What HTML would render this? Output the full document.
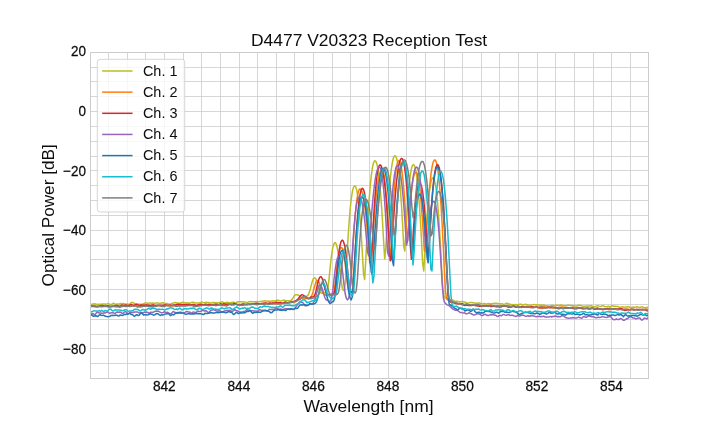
<!DOCTYPE html>
<html lang="en"><head><meta charset="utf-8"><title>D4477 V20323 Reception Test</title>
<style>
html,body{margin:0;padding:0;background:#fff;}
body{width:720px;height:432px;overflow:hidden;position:relative;}
svg text{font-family:"Liberation Sans",Arial,Helvetica,sans-serif;fill:#0d0d0d;}
.tk{font-size:14.2px;stroke:#0d0d0d;stroke-width:0.25px;}
.lg{font-size:14.3px;}
.lb{font-size:16.6px;}
.tt{font-size:16.3px;}
</style></head><body>
<svg width="720" height="432" viewBox="0 0 720 432" style="position:absolute;left:0;top:0">
<rect width="720" height="432" fill="#fff"/>
<path d="M90.5 52.50V378.50M108.5 52.50V378.50M127.5 52.50V378.50M145.5 52.50V378.50M164.5 52.50V378.50M183.5 52.50V378.50M201.5 52.50V378.50M220.5 52.50V378.50M239.5 52.50V378.50M257.5 52.50V378.50M276.5 52.50V378.50M294.5 52.50V378.50M313.5 52.50V378.50M332.5 52.50V378.50M350.5 52.50V378.50M369.5 52.50V378.50M388.5 52.50V378.50M406.5 52.50V378.50M425.5 52.50V378.50M444.5 52.50V378.50M462.5 52.50V378.50M481.5 52.50V378.50M499.5 52.50V378.50M518.5 52.50V378.50M537.5 52.50V378.50M555.5 52.50V378.50M574.5 52.50V378.50M593.5 52.50V378.50M611.5 52.50V378.50M630.5 52.50V378.50M648.5 52.50V378.50" stroke="#cccccc" stroke-width="0.8" fill="none"/>
<path d="M90.50 378.5H648.50M90.50 363.5H648.50M90.50 348.5H648.50M90.50 334.5H648.50M90.50 319.5H648.50M90.50 304.5H648.50M90.50 289.5H648.50M90.50 274.5H648.50M90.50 259.5H648.50M90.50 245.5H648.50M90.50 230.5H648.50M90.50 215.5H648.50M90.50 200.5H648.50M90.50 185.5H648.50M90.50 170.5H648.50M90.50 156.5H648.50M90.50 141.5H648.50M90.50 126.5H648.50M90.50 111.5H648.50M90.50 96.5H648.50M90.50 81.5H648.50M90.50 67.5H648.50M90.50 52.5H648.50" stroke="#cccccc" stroke-width="0.8" fill="none"/>
<defs><clipPath id="c"><rect x="90.00" y="51.84" width="558.00" height="326.16"/></clipPath></defs>
<g clip-path="url(#c)" fill="none" stroke-width="1.5" stroke-linejoin="round" stroke-linecap="square">
<polyline stroke="#bcbd22" points="90.00,304.58 90.09,304.49 91.20,304.26 92.32,304.28 93.43,303.92 94.55,303.85 95.67,304.00 96.78,304.21 97.90,304.37 99.01,304.28 100.13,304.21 101.25,304.35 102.36,303.98 103.48,303.91 104.59,304.06 105.71,304.32 106.83,303.90 107.94,303.43 109.06,303.91 110.17,304.17 111.29,304.40 112.41,303.96 113.52,303.18 114.64,303.83 115.75,304.27 116.87,303.92 117.99,303.89 119.10,304.23 120.22,303.51 121.33,303.66 122.45,303.58 123.57,303.41 124.68,304.06 125.80,304.11 126.91,304.03 128.03,304.13 129.15,304.14 130.26,303.74 131.38,302.46 132.49,302.49 133.61,303.02 134.73,303.56 135.84,303.64 136.96,303.80 138.07,304.26 139.19,304.30 140.31,304.27 141.42,304.20 142.54,304.15 143.65,303.63 144.77,303.22 145.89,303.12 147.00,303.07 148.12,303.40 149.23,303.11 150.35,303.00 151.47,303.19 152.58,302.99 153.70,303.14 154.81,303.38 155.93,303.00 157.05,302.97 158.16,303.08 159.28,303.40 160.39,303.35 161.51,302.98 162.63,302.85 163.74,303.06 164.86,303.62 165.97,303.59 167.09,303.40 168.21,303.88 169.32,304.37 170.44,304.00 171.55,303.54 172.67,303.25 173.79,302.83 174.90,302.58 176.02,302.80 177.13,303.04 178.25,302.91 179.37,303.27 180.48,303.37 181.60,302.66 182.71,302.16 183.83,302.40 184.95,302.82 186.06,302.88 187.18,302.78 188.29,302.88 189.41,303.31 190.53,302.83 191.64,302.57 192.76,302.16 193.87,302.49 194.99,302.89 196.11,302.99 197.22,303.00 198.34,302.98 199.45,302.77 200.57,302.43 201.69,301.90 202.80,302.49 203.92,302.63 205.03,302.71 206.15,302.28 207.27,302.40 208.38,302.76 209.50,302.59 210.61,303.00 211.73,303.03 212.85,302.54 213.96,302.51 215.08,302.65 216.19,302.71 217.31,302.89 218.43,302.82 219.54,302.47 220.66,302.25 221.77,302.08 222.89,302.08 224.01,302.63 225.12,302.74 226.24,302.50 227.35,302.28 228.47,302.73 229.59,302.64 230.70,302.54 231.82,302.40 232.93,302.21 234.05,302.34 235.17,302.92 236.28,302.71 237.40,301.84 238.51,301.65 239.63,301.86 240.75,301.68 241.86,301.72 242.98,301.95 244.09,301.88 245.21,301.98 246.33,302.84 247.44,302.35 248.56,301.84 249.67,301.85 250.79,301.53 251.91,301.65 253.02,301.72 254.14,301.82 255.25,301.66 256.37,301.39 257.49,301.63 258.60,301.72 259.72,301.58 260.83,301.52 261.95,301.46 263.07,301.05 264.18,300.90 265.30,300.71 266.41,301.06 267.53,301.20 268.65,300.99 269.76,301.23 270.88,301.24 271.99,300.85 273.11,300.93 274.23,300.97 275.34,300.82 276.46,300.47 277.57,300.12 278.69,300.32 279.81,300.91 280.92,301.07 282.04,300.65 283.15,300.13 284.27,300.21 285.39,300.66 286.50,300.63 287.62,300.71 288.73,300.82 289.85,300.71 290.97,300.55 292.08,299.34 293.20,297.57 294.31,295.87 295.43,294.81 296.55,294.75 297.66,294.95 298.78,295.24 299.89,296.07 301.01,297.22 302.13,297.94 303.24,297.79 304.36,297.00 305.47,296.68 306.59,296.29 307.71,295.57 308.82,293.59 309.94,290.60 311.05,286.17 312.17,281.93 313.29,278.82 314.40,277.73 315.52,278.42 316.63,281.01 317.75,285.25 318.87,289.54 319.98,292.04 321.10,293.10 322.21,293.29 323.33,293.15 324.45,292.58 325.56,292.43 326.68,292.20 327.79,288.56 328.91,280.11 330.03,268.81 331.14,258.39 332.26,250.38 333.37,245.15 334.49,242.73 335.61,242.82 336.72,245.48 337.84,250.96 338.95,259.20 340.07,269.66 341.19,280.60 342.30,288.21 343.42,290.56 344.53,289.16 345.65,279.23 346.77,260.30 347.88,240.62 349.00,223.59 350.11,209.76 351.23,199.18 352.35,191.76 353.46,187.39 354.58,185.87 355.69,186.79 356.81,190.39 357.93,196.92 359.04,206.49 360.16,219.19 361.27,235.04 362.39,253.74 363.51,273.10 364.62,279.52 365.74,260.87 366.85,237.89 367.97,217.44 369.09,200.17 370.20,186.13 371.32,175.27 372.43,167.51 373.55,162.72 374.67,160.75 375.78,161.18 376.90,164.04 378.01,169.60 379.13,177.98 380.25,189.29 381.36,203.59 382.48,220.91 383.59,241.08 384.71,258.85 385.83,247.52 386.94,226.11 388.06,207.20 389.17,191.33 390.29,178.47 391.41,168.57 392.52,161.55 393.64,157.31 394.75,155.66 395.87,156.34 396.99,159.73 398.10,166.12 399.22,175.64 400.33,188.40 401.45,204.47 402.57,223.87 403.68,245.66 404.80,251.04 405.91,231.23 407.03,212.12 408.15,196.29 409.26,183.76 410.38,174.46 411.49,168.29 412.61,165.11 413.73,164.60 414.84,166.54 415.96,171.26 417.07,178.94 418.19,189.70 419.31,203.62 420.42,220.74 421.54,241.03 422.65,263.44 423.77,270.95 424.89,251.78 426.00,232.01 427.12,215.27 428.23,201.71 429.35,191.29 430.47,183.94 431.58,179.54 432.70,177.89 433.81,178.66 434.93,182.17 436.05,188.68 437.16,198.34 438.28,211.24 439.39,227.42 440.51,246.79 441.63,268.50 442.74,287.55 443.86,295.53 444.97,297.44 446.09,298.17 447.21,298.48 448.32,298.94 449.44,299.40 450.55,299.71 451.67,299.69 452.79,300.05 453.90,301.07 455.02,301.12 456.13,301.36 457.25,301.32 458.37,301.39 459.48,301.84 460.60,301.88 461.71,301.52 462.83,301.64 463.95,301.86 465.06,302.23 466.18,302.71 467.29,303.34 468.41,303.21 469.53,302.62 470.64,302.48 471.76,302.47 472.87,302.80 473.99,302.83 475.11,303.40 476.22,303.17 477.34,303.08 478.45,303.26 479.57,302.87 480.69,303.50 481.80,303.69 482.92,303.91 484.03,303.40 485.15,303.80 486.27,304.21 487.38,303.69 488.50,303.45 489.61,303.87 490.73,303.84 491.85,303.64 492.96,303.42 494.08,303.46 495.19,303.31 496.31,303.22 497.43,303.59 498.54,303.62 499.66,303.87 500.77,303.65 501.89,303.73 503.01,304.16 504.12,304.13 505.24,303.88 506.35,303.23 507.47,303.49 508.59,303.82 509.70,304.08 510.82,304.63 511.93,304.53 513.05,304.78 514.17,304.74 515.28,304.50 516.40,304.65 517.51,304.80 518.63,304.78 519.75,304.22 520.86,304.30 521.98,304.57 523.09,304.97 524.21,304.75 525.33,304.24 526.44,304.52 527.56,304.77 528.67,305.03 529.79,305.14 530.91,305.18 532.02,304.85 533.14,304.68 534.25,304.42 535.37,304.90 536.49,304.78 537.60,304.90 538.72,304.97 539.83,305.07 540.95,305.43 542.07,305.05 543.18,304.91 544.30,305.15 545.41,305.66 546.53,305.75 547.65,305.94 548.76,306.06 549.88,306.25 550.99,305.79 552.11,305.25 553.23,305.60 554.34,305.82 555.46,305.43 556.57,305.26 557.69,305.12 558.81,305.45 559.92,305.26 561.04,305.03 562.15,305.21 563.27,305.63 564.39,305.81 565.50,305.76 566.62,305.75 567.73,305.28 568.85,305.17 569.97,305.38 571.08,305.56 572.20,305.75 573.31,305.85 574.43,305.72 575.55,305.94 576.66,305.97 577.78,305.54 578.89,305.15 580.01,305.56 581.13,305.61 582.24,306.03 583.36,306.36 584.47,306.27 585.59,306.16 586.71,306.05 587.82,306.00 588.94,306.07 590.05,305.89 591.17,305.79 592.29,306.18 593.40,306.49 594.52,306.68 595.63,306.38 596.75,306.07 597.87,305.65 598.98,306.14 600.10,306.51 601.21,306.38 602.33,305.67 603.45,305.70 604.56,306.58 605.68,306.79 606.79,306.82 607.91,306.21 609.03,306.36 610.14,306.96 611.26,306.15 612.37,305.74 613.49,306.28 614.61,306.12 615.72,306.29 616.84,306.48 617.95,306.44 619.07,307.17 620.19,307.46 621.30,306.91 622.42,306.74 623.53,307.16 624.65,307.12 625.77,307.00 626.88,307.05 628.00,306.73 629.11,306.86 630.23,307.73 631.35,307.43 632.46,307.24 633.58,307.07 634.69,307.31 635.81,307.05 636.93,306.74 638.04,307.17 639.16,307.59 640.27,307.28 641.39,307.06 642.51,306.92 643.62,307.50 644.74,307.78 645.85,307.75 646.97,307.31 648.00,307.61"/>
<polyline stroke="#ff7f0e" points="90.00,306.05 90.67,305.84 91.79,306.23 92.90,306.47 94.02,306.67 95.13,306.72 96.25,306.87 97.37,307.17 98.48,306.90 99.60,306.45 100.71,306.75 101.83,306.77 102.95,306.40 104.06,306.21 105.18,306.04 106.29,306.34 107.41,306.54 108.53,305.96 109.64,306.03 110.76,306.25 111.87,305.98 112.99,306.35 114.11,306.26 115.22,306.68 116.34,306.95 117.45,306.57 118.57,306.53 119.69,306.22 120.80,306.58 121.92,306.50 123.03,306.58 124.15,306.14 125.27,306.03 126.38,305.96 127.50,305.57 128.61,305.65 129.73,305.93 130.85,306.23 131.96,306.07 133.08,305.91 134.19,305.91 135.31,306.20 136.43,306.66 137.54,307.29 138.66,306.64 139.77,306.20 140.89,305.96 142.01,305.21 143.12,305.06 144.24,305.16 145.35,305.30 146.47,305.30 147.59,305.37 148.70,305.30 149.82,306.13 150.93,305.96 152.05,305.48 153.17,304.96 154.28,305.05 155.40,305.31 156.51,305.99 157.63,305.86 158.75,305.58 159.86,305.52 160.98,306.39 162.09,306.42 163.21,306.46 164.33,305.69 165.44,304.75 166.56,305.13 167.67,305.83 168.79,305.68 169.91,305.28 171.02,305.56 172.14,305.62 173.25,305.88 174.37,305.86 175.49,305.20 176.60,305.07 177.72,305.08 178.83,305.53 179.95,305.28 181.07,305.29 182.18,305.29 183.30,304.93 184.41,305.19 185.53,305.11 186.65,305.04 187.76,304.83 188.88,304.91 189.99,304.79 191.11,304.87 192.23,305.00 193.34,304.59 194.46,304.84 195.57,305.37 196.69,305.67 197.81,306.00 198.92,305.71 200.04,305.25 201.15,304.70 202.27,304.78 203.39,304.71 204.50,304.50 205.62,304.70 206.73,305.00 207.85,305.18 208.97,305.23 210.08,305.05 211.20,304.75 212.31,305.18 213.43,305.03 214.55,305.14 215.66,305.60 216.78,305.12 217.89,304.87 219.01,304.83 220.13,305.02 221.24,305.45 222.36,305.12 223.47,304.37 224.59,304.42 225.71,304.60 226.82,305.06 227.94,304.70 229.05,304.15 230.17,304.32 231.29,304.46 232.40,304.79 233.52,304.80 234.63,304.37 235.75,303.77 236.87,304.55 237.98,304.96 239.10,304.51 240.21,304.36 241.33,304.81 242.45,305.02 243.56,304.14 244.68,304.14 245.79,304.40 246.91,304.24 248.03,304.71 249.14,304.61 250.26,304.19 251.37,304.26 252.49,304.05 253.61,303.92 254.72,304.10 255.84,304.28 256.95,304.71 258.07,304.31 259.19,304.05 260.30,303.69 261.42,303.69 262.53,303.62 263.65,304.27 264.77,304.62 265.88,304.17 267.00,303.85 268.11,303.84 269.23,303.60 270.35,303.10 271.46,303.31 272.58,303.01 273.69,303.44 274.81,303.95 275.93,303.92 277.04,303.59 278.16,303.48 279.27,303.68 280.39,303.87 281.51,303.69 282.62,303.31 283.74,303.15 284.85,302.86 285.97,302.19 287.09,302.60 288.20,303.10 289.32,302.57 290.43,302.03 291.55,301.94 292.67,302.14 293.78,302.65 294.90,302.28 296.01,301.34 297.13,300.44 298.25,299.45 299.36,298.22 300.48,297.26 301.59,297.59 302.71,298.05 303.83,298.09 304.94,298.32 306.06,298.51 307.17,298.44 308.29,298.00 309.41,298.10 310.52,297.51 311.64,295.83 312.75,293.02 313.87,289.03 314.99,284.96 316.10,281.76 317.22,280.37 318.33,280.78 319.45,283.14 320.57,286.50 321.68,290.33 322.80,293.14 323.91,294.33 325.03,294.79 326.15,295.27 327.26,295.14 328.38,295.03 329.49,294.75 330.61,294.48 331.73,294.05 332.84,293.95 333.96,291.64 335.07,284.28 336.19,273.87 337.31,263.69 338.42,255.57 339.54,250.15 340.65,247.56 341.77,247.49 342.89,249.89 344.00,255.09 345.12,263.04 346.23,273.13 347.35,283.28 348.47,289.99 349.58,291.50 350.70,284.83 351.81,267.58 352.93,247.77 354.05,230.10 355.16,215.55 356.28,204.24 357.39,196.12 358.51,191.08 359.63,188.95 360.74,189.17 361.86,191.20 362.97,195.21 364.09,201.28 365.21,209.49 366.32,219.87 367.44,232.46 368.55,247.13 369.67,262.55 370.79,267.08 371.90,251.99 373.02,234.40 374.13,218.68 375.25,205.19 376.37,193.94 377.48,184.89 378.60,178.01 379.71,173.22 380.83,170.45 381.95,169.56 383.06,170.92 384.18,175.71 385.29,184.23 386.41,196.64 387.53,213.04 388.64,233.46 389.76,255.82 390.87,251.02 391.99,227.00 393.11,206.11 394.22,189.27 395.34,176.45 396.45,167.53 397.57,162.36 398.69,160.66 399.80,161.70 400.92,165.40 402.03,171.99 403.15,181.60 404.27,194.31 405.38,210.19 406.50,228.80 407.61,240.32 408.73,226.91 409.85,210.32 410.96,196.66 412.08,186.13 413.19,178.64 414.31,174.08 415.43,172.28 416.54,172.83 417.66,175.78 418.77,181.39 419.89,189.78 421.01,201.05 422.12,215.25 423.24,232.39 424.35,250.96 425.47,251.64 426.59,231.80 427.70,212.85 428.82,196.83 429.93,183.79 431.05,173.67 432.17,166.39 433.28,161.85 434.40,159.90 435.51,160.25 436.63,163.24 437.75,169.21 438.86,178.31 439.98,190.63 441.09,206.26 442.21,225.23 443.33,247.46 444.44,271.90 445.56,292.09 446.67,299.04 447.79,300.04 448.91,300.47 450.02,300.72 451.14,301.10 452.25,301.80 453.37,302.52 454.49,302.78 455.60,302.88 456.72,302.95 457.83,303.42 458.95,303.81 460.07,303.54 461.18,303.90 462.30,304.47 463.41,304.95 464.53,304.63 465.65,304.06 466.76,303.96 467.88,304.45 468.99,304.73 470.11,304.85 471.23,305.25 472.34,305.25 473.46,304.98 474.57,305.25 475.69,305.41 476.81,305.47 477.92,305.24 479.04,305.12 480.15,305.49 481.27,305.64 482.39,305.76 483.50,306.17 484.62,306.26 485.73,306.01 486.85,306.17 487.97,305.76 489.08,305.44 490.20,304.85 491.31,305.44 492.43,305.78 493.55,305.66 494.66,305.71 495.78,306.14 496.89,306.30 498.01,306.30 499.13,305.78 500.24,305.56 501.36,305.86 502.47,305.98 503.59,306.03 504.71,306.19 505.82,305.88 506.94,305.57 508.05,305.58 509.17,305.58 510.29,306.08 511.40,306.47 512.52,306.69 513.63,306.46 514.75,306.80 515.87,307.19 516.98,307.06 518.10,307.00 519.21,307.56 520.33,307.36 521.45,306.85 522.56,306.73 523.68,306.93 524.79,307.22 525.91,306.61 527.03,306.12 528.14,306.76 529.26,307.25 530.37,306.78 531.49,306.77 532.61,307.11 533.72,307.19 534.84,307.32 535.95,307.26 537.07,307.21 538.19,307.52 539.30,308.15 540.42,307.92 541.53,306.93 542.65,306.56 543.77,306.55 544.88,306.86 546.00,307.40 547.11,307.47 548.23,307.34 549.35,307.19 550.46,307.43 551.58,307.95 552.69,307.93 553.81,307.79 554.93,307.84 556.04,307.73 557.16,308.10 558.27,307.59 559.39,307.19 560.51,307.24 561.62,306.94 562.74,306.89 563.85,307.22 564.97,307.42 566.09,307.49 567.20,307.63 568.32,307.98 569.43,307.92 570.55,307.70 571.67,307.52 572.78,307.28 573.90,307.45 575.01,307.87 576.13,307.67 577.25,307.83 578.36,307.58 579.48,307.72 580.59,307.82 581.71,308.02 582.83,308.55 583.94,308.30 585.06,308.47 586.17,308.26 587.29,307.41 588.41,307.59 589.52,308.31 590.64,308.46 591.75,308.47 592.87,308.40 593.99,308.65 595.10,308.52 596.22,308.22 597.33,308.19 598.45,308.97 599.57,309.22 600.68,309.06 601.80,308.88 602.91,309.27 604.03,309.03 605.15,309.08 606.26,309.14 607.38,309.10 608.49,309.63 609.61,309.83 610.73,309.33 611.84,308.97 612.96,309.03 614.07,309.22 615.19,309.07 616.31,309.20 617.42,309.51 618.54,309.16 619.65,308.78 620.77,308.57 621.89,309.17 623.00,309.49 624.12,309.22 625.23,309.23 626.35,308.99 627.47,308.99 628.58,309.23 629.70,309.67 630.81,309.72 631.93,309.49 633.05,309.54 634.16,309.61 635.28,309.69 636.39,309.82 637.51,309.71 638.63,309.64 639.74,309.48 640.86,309.54 641.97,309.79 643.09,309.52 644.21,309.56 645.32,309.23 646.44,309.30 647.55,309.40 648.00,309.16"/>
<polyline stroke="#d62728" points="90.00,306.32 91.10,306.06 92.21,305.87 93.33,305.94 94.45,305.93 95.56,306.49 96.68,306.44 97.79,306.13 98.91,306.24 100.03,305.83 101.14,305.77 102.26,305.53 103.37,305.72 104.49,306.06 105.61,306.28 106.72,305.90 107.84,305.72 108.95,306.21 110.07,306.57 111.19,306.57 112.30,306.26 113.42,306.34 114.53,306.06 115.65,305.48 116.77,305.40 117.88,305.62 119.00,306.29 120.11,306.22 121.23,305.32 122.35,304.90 123.46,305.47 124.58,305.30 125.69,304.85 126.81,305.39 127.93,305.58 129.04,305.56 130.16,304.74 131.27,304.56 132.39,304.91 133.51,305.14 134.62,305.02 135.74,304.62 136.85,304.50 137.97,304.89 139.09,305.39 140.20,305.29 141.32,304.87 142.43,305.23 143.55,305.30 144.67,305.28 145.78,304.90 146.90,304.96 148.01,305.21 149.13,305.21 150.25,305.42 151.36,305.22 152.48,304.88 153.59,305.09 154.71,305.81 155.83,305.82 156.94,305.52 158.06,305.39 159.17,305.58 160.29,305.27 161.41,305.34 162.52,305.56 163.64,305.09 164.75,305.03 165.87,305.11 166.99,305.15 168.10,305.42 169.22,305.24 170.33,305.28 171.45,305.54 172.57,305.71 173.68,304.90 174.80,304.90 175.91,304.83 177.03,304.47 178.15,304.32 179.26,304.44 180.38,304.57 181.49,304.43 182.61,304.39 183.73,304.53 184.84,304.44 185.96,304.57 187.07,304.75 188.19,304.43 189.31,304.53 190.42,304.92 191.54,304.70 192.65,304.52 193.77,304.62 194.89,305.02 196.00,305.32 197.12,305.41 198.23,304.76 199.35,304.46 200.47,304.20 201.58,304.14 202.70,304.82 203.81,304.97 204.93,304.42 206.05,304.23 207.16,304.72 208.28,304.53 209.39,304.37 210.51,304.78 211.63,305.17 212.74,304.72 213.86,304.50 214.97,304.28 216.09,304.33 217.21,304.36 218.32,304.80 219.44,304.46 220.55,303.73 221.67,304.04 222.79,304.17 223.90,303.61 225.02,304.09 226.13,304.22 227.25,304.12 228.37,304.16 229.48,304.27 230.60,304.23 231.71,304.29 232.83,304.12 233.95,303.49 235.06,303.56 236.18,304.14 237.29,304.50 238.41,304.50 239.53,304.64 240.64,304.85 241.76,304.20 242.87,304.03 243.99,304.11 245.11,304.55 246.22,304.57 247.34,304.54 248.45,304.03 249.57,304.34 250.69,304.33 251.80,304.05 252.92,304.02 254.03,303.93 255.15,303.37 256.27,303.24 257.38,303.34 258.50,303.73 259.61,303.71 260.73,303.69 261.85,303.52 262.96,303.37 264.08,303.07 265.19,302.98 266.31,303.00 267.43,303.39 268.54,303.21 269.66,302.97 270.77,303.39 271.89,303.32 273.01,302.93 274.12,302.91 275.24,302.52 276.35,302.26 277.47,302.46 278.59,302.59 279.70,302.69 280.82,302.73 281.93,303.05 283.05,303.27 284.17,302.41 285.28,302.05 286.40,302.62 287.51,302.89 288.63,302.49 289.75,302.52 290.86,302.17 291.98,301.85 293.09,301.60 294.21,301.25 295.33,300.99 296.44,300.50 297.56,299.38 298.67,298.15 299.79,296.45 300.91,295.30 302.02,294.64 303.14,295.12 304.25,295.82 305.37,296.62 306.49,297.57 307.60,298.54 308.72,298.70 309.83,298.30 310.95,297.03 312.07,296.88 313.18,296.84 314.30,296.02 315.41,293.39 316.53,288.79 317.65,283.75 318.76,279.44 319.88,277.10 320.99,276.63 322.11,278.24 323.23,281.63 324.34,286.16 325.46,290.55 326.57,293.13 327.69,294.24 328.81,294.91 329.92,294.51 331.04,294.69 332.15,295.16 333.27,294.52 334.39,292.63 335.50,286.17 336.62,274.90 337.73,262.89 338.85,252.95 339.97,245.81 341.08,241.58 342.20,240.14 343.31,241.11 344.43,244.81 345.55,251.39 346.66,260.77 347.78,272.12 348.89,283.12 350.01,290.34 351.13,292.50 352.24,291.39 353.36,282.84 354.47,264.36 355.59,244.52 356.71,227.24 357.82,213.15 358.94,202.30 360.05,194.62 361.17,190.01 362.29,188.27 363.40,189.10 364.52,192.93 365.63,200.08 366.75,210.68 367.87,224.83 368.98,242.50 370.10,262.28 371.21,264.60 372.33,242.20 373.45,220.57 374.56,202.51 375.68,188.09 376.79,177.24 377.91,169.87 379.03,165.83 380.14,164.82 381.26,166.03 382.37,169.45 383.49,175.23 384.61,183.46 385.72,194.23 386.84,207.57 387.95,223.53 389.07,242.00 390.19,260.75 391.30,259.24 392.42,239.41 393.53,220.37 394.65,203.90 395.77,190.06 396.88,178.80 398.00,170.08 399.11,163.84 400.23,159.98 401.35,158.37 402.46,158.83 403.58,161.88 404.69,167.86 405.81,176.90 406.93,189.11 408.04,204.57 409.16,223.31 410.27,244.96 411.39,259.35 412.51,244.95 413.62,226.98 414.74,212.03 415.85,200.29 416.97,191.70 418.09,186.16 419.20,183.52 420.32,183.44 421.43,185.92 422.55,191.32 423.67,199.82 424.78,211.51 425.90,226.46 427.01,244.49 428.13,259.30 429.25,245.78 430.36,224.76 431.48,206.69 432.59,191.94 433.71,180.47 434.83,172.18 435.94,166.98 437.06,164.69 438.17,164.94 439.29,167.83 440.41,173.68 441.52,182.66 442.64,194.86 443.75,210.36 444.87,229.20 445.99,251.27 447.10,275.36 448.22,294.37 449.33,300.70 450.45,302.10 451.57,302.40 452.68,302.60 453.80,302.76 454.91,303.09 456.03,303.57 457.15,303.69 458.26,303.70 459.38,303.87 460.49,303.82 461.61,303.75 462.73,303.84 463.84,304.87 464.96,305.50 466.07,305.13 467.19,305.13 468.31,305.49 469.42,305.33 470.54,305.39 471.65,305.50 472.77,305.22 473.89,305.32 475.00,305.48 476.12,305.45 477.23,305.83 478.35,306.10 479.47,306.13 480.58,306.26 481.70,306.37 482.81,306.18 483.93,305.54 485.05,305.72 486.16,306.05 487.28,306.12 488.39,305.76 489.51,305.73 490.63,306.52 491.74,306.57 492.86,306.31 493.97,306.10 495.09,306.59 496.21,306.86 497.32,306.49 498.44,306.71 499.55,307.10 500.67,306.90 501.79,306.69 502.90,306.16 504.02,305.93 505.13,305.88 506.25,306.33 507.37,306.69 508.48,307.25 509.60,307.35 510.71,307.36 511.83,306.52 512.95,306.05 514.06,306.34 515.18,306.87 516.29,307.06 517.41,306.25 518.53,306.53 519.64,307.02 520.76,307.10 521.87,306.48 522.99,306.83 524.11,306.86 525.22,307.12 526.34,306.91 527.45,307.06 528.57,307.14 529.69,307.29 530.80,307.19 531.92,306.79 533.03,306.96 534.15,307.15 535.27,307.29 536.38,307.01 537.50,307.29 538.61,307.44 539.73,307.31 540.85,307.75 541.96,308.12 543.08,308.08 544.19,307.65 545.31,307.69 546.43,307.62 547.54,307.35 548.66,307.45 549.77,307.87 550.89,307.35 552.01,307.30 553.12,307.30 554.24,307.61 555.35,307.59 556.47,307.41 557.59,308.21 558.70,308.69 559.82,308.52 560.93,307.98 562.05,308.37 563.17,308.82 564.28,308.22 565.40,307.74 566.51,307.97 567.63,307.84 568.75,307.82 569.86,308.09 570.98,308.02 572.09,307.93 573.21,308.57 574.33,308.81 575.44,308.70 576.56,308.73 577.67,308.21 578.79,307.98 579.91,307.74 581.02,308.14 582.14,308.66 583.25,308.78 584.37,308.59 585.49,308.43 586.60,308.49 587.72,308.83 588.83,308.78 589.95,309.12 591.07,308.50 592.18,307.93 593.30,308.32 594.41,309.22 595.53,309.15 596.65,308.56 597.76,308.21 598.88,308.45 599.99,308.66 601.11,309.05 602.23,309.64 603.34,309.54 604.46,309.32 605.57,309.06 606.69,308.63 607.81,308.43 608.92,308.50 610.04,308.51 611.15,308.72 612.27,308.65 613.39,308.87 614.50,309.18 615.62,308.92 616.73,309.16 617.85,308.96 618.97,308.96 620.08,308.76 621.20,308.78 622.31,308.93 623.43,309.77 624.55,310.42 625.66,310.27 626.78,310.04 627.89,310.07 629.01,309.83 630.13,309.72 631.24,309.45 632.36,309.22 633.47,309.50 634.59,309.47 635.71,309.67 636.82,309.16 637.94,309.40 639.05,309.73 640.17,309.40 641.29,309.80 642.40,309.49 643.52,309.65 644.63,309.63 645.75,309.83 646.87,310.86 647.98,310.68 648.00,310.75"/>
<polyline stroke="#9467bd" points="90.00,313.95 90.75,314.56 91.86,313.52 92.98,313.72 94.10,314.42 95.21,314.59 96.33,312.80 97.44,312.05 98.56,312.78 99.68,312.90 100.79,313.06 101.91,313.33 103.02,313.15 104.14,312.80 105.26,313.11 106.37,312.24 107.49,312.16 108.60,312.53 109.72,313.52 110.84,312.75 111.95,312.75 113.07,312.52 114.18,313.42 115.30,313.50 116.42,312.23 117.53,311.94 118.65,312.24 119.76,312.09 120.88,312.22 122.00,313.56 123.11,313.35 124.23,312.09 125.34,311.57 126.46,312.16 127.58,313.57 128.69,313.74 129.81,312.61 130.92,312.25 132.04,312.52 133.16,312.54 134.27,312.02 135.39,311.93 136.50,311.91 137.62,312.02 138.74,312.85 139.85,312.98 140.97,312.86 142.08,313.66 143.20,312.67 144.32,312.05 145.43,312.18 146.55,312.03 147.66,312.44 148.78,313.00 149.90,312.67 151.01,312.05 152.13,312.60 153.24,312.32 154.36,311.67 155.48,311.20 156.59,311.03 157.71,311.35 158.82,311.27 159.94,312.29 161.06,312.66 162.17,312.79 163.29,312.33 164.40,311.72 165.52,312.36 166.64,312.42 167.75,312.23 168.87,313.18 169.98,313.76 171.10,313.83 172.22,312.36 173.33,311.50 174.45,312.17 175.56,312.39 176.68,313.37 177.80,313.56 178.91,312.96 180.03,311.97 181.14,312.50 182.26,312.61 183.38,313.10 184.49,313.01 185.61,312.03 186.72,311.43 187.84,311.74 188.96,311.93 190.07,312.18 191.19,312.88 192.30,312.66 193.42,311.91 194.54,312.33 195.65,312.42 196.77,311.94 197.88,311.01 199.00,311.54 200.12,311.62 201.23,310.99 202.35,310.31 203.46,310.57 204.58,310.95 205.70,310.69 206.81,311.22 207.93,312.23 209.04,312.43 210.16,311.00 211.28,310.03 212.39,310.11 213.51,309.62 214.62,310.16 215.74,310.56 216.86,311.09 217.97,311.27 219.09,310.56 220.20,310.87 221.32,312.02 222.44,312.04 223.55,311.42 224.67,311.03 225.78,310.67 226.90,310.28 228.02,310.72 229.13,310.25 230.25,310.39 231.36,311.40 232.48,311.39 233.60,310.45 234.71,309.62 235.83,310.27 236.94,310.81 238.06,311.10 239.18,311.90 240.29,311.98 241.41,311.99 242.52,311.89 243.64,311.55 244.76,311.48 245.87,310.47 246.99,309.62 248.10,310.58 249.22,310.03 250.34,310.58 251.45,310.83 252.57,310.75 253.68,310.89 254.80,311.05 255.92,310.88 257.03,311.45 258.15,310.95 259.26,309.45 260.38,309.95 261.50,310.34 262.61,310.19 263.73,310.25 264.84,310.65 265.96,310.75 267.08,311.25 268.19,310.28 269.31,309.28 270.42,309.59 271.54,309.52 272.66,309.43 273.77,309.54 274.89,308.91 276.00,308.42 277.12,308.47 278.24,308.88 279.35,309.13 280.47,309.05 281.58,309.25 282.70,309.78 283.82,309.19 284.93,308.86 286.05,308.69 287.16,308.83 288.28,309.27 289.40,309.01 290.51,308.77 291.63,309.15 292.74,309.19 293.86,309.04 294.98,308.66 296.09,306.64 297.21,305.17 298.32,303.65 299.44,302.12 300.56,301.46 301.67,302.32 302.79,302.63 303.90,304.04 305.02,305.83 306.14,305.70 307.25,305.46 308.37,304.82 309.48,304.47 310.60,304.02 311.72,303.90 312.83,303.52 313.95,301.68 315.06,299.10 316.18,295.08 317.30,290.49 318.41,286.84 319.53,285.18 320.64,285.42 321.76,287.20 322.88,290.75 323.99,294.90 325.11,298.06 326.22,299.72 327.34,300.25 328.46,300.71 329.57,301.76 330.69,300.96 331.80,296.74 332.92,289.10 334.04,279.42 335.15,270.02 336.27,262.73 337.38,258.24 338.50,256.48 339.62,257.14 340.73,260.40 341.85,266.45 342.96,275.11 344.08,285.29 345.20,293.74 346.31,298.25 347.43,299.85 348.54,298.65 349.66,294.22 350.78,279.66 351.89,259.90 353.01,241.62 354.12,226.39 355.24,214.39 356.36,205.59 357.47,199.91 358.59,197.18 359.70,196.99 360.82,198.64 361.94,202.26 363.05,207.96 364.17,215.82 365.28,225.87 366.40,238.10 367.52,251.47 368.63,255.69 369.75,241.42 370.86,224.59 371.98,209.75 373.10,197.17 374.21,186.86 375.33,178.76 376.44,172.83 377.56,168.98 378.68,167.13 379.79,167.12 380.91,169.65 382.02,175.24 383.14,184.06 384.26,196.23 385.37,211.83 386.49,230.89 387.60,252.39 388.72,256.05 389.84,234.94 390.95,215.04 392.07,198.58 393.18,185.56 394.30,175.92 395.42,169.55 396.53,166.28 397.65,165.78 398.76,167.42 399.88,171.36 401.00,177.73 402.11,186.64 403.23,198.15 404.34,212.31 405.46,229.02 406.58,244.97 407.69,240.28 408.81,223.06 409.92,207.38 411.04,194.34 412.16,183.93 413.27,176.09 414.39,170.75 415.50,167.80 416.62,167.04 417.74,168.29 418.85,171.90 419.97,178.04 421.08,186.81 422.20,198.28 423.32,212.51 424.43,229.42 425.55,246.73 426.66,248.34 427.78,235.58 428.90,223.56 430.01,214.16 431.13,207.40 432.24,203.18 433.36,201.38 434.48,201.77 435.59,204.79 436.71,210.79 437.82,219.90 438.94,232.22 440.06,247.73 441.17,266.11 442.29,285.17 443.40,298.04 444.52,302.35 445.64,303.61 446.75,304.62 447.87,305.14 448.98,305.59 450.10,306.46 451.22,307.50 452.33,308.69 453.45,309.31 454.56,309.96 455.68,310.28 456.80,310.34 457.91,310.74 459.03,311.52 460.14,312.46 461.26,312.51 462.38,312.77 463.49,312.90 464.61,312.71 465.72,313.84 466.84,313.87 467.96,313.36 469.07,312.66 470.19,313.32 471.30,313.73 472.42,314.37 473.54,315.02 474.65,314.80 475.77,314.44 476.88,313.60 478.00,313.73 479.12,313.91 480.23,314.48 481.35,315.46 482.46,315.56 483.58,314.79 484.70,314.32 485.81,314.52 486.93,315.28 488.04,315.56 489.16,315.21 490.28,314.53 491.39,315.00 492.51,314.69 493.62,314.59 494.74,315.31 495.86,315.32 496.97,316.22 498.09,316.40 499.20,315.48 500.32,315.49 501.44,315.75 502.55,314.81 503.67,314.38 504.78,314.92 505.90,315.39 507.02,315.06 508.13,314.75 509.25,314.79 510.36,315.53 511.48,315.35 512.60,315.27 513.71,315.80 514.83,316.10 515.94,316.47 517.06,315.80 518.18,315.78 519.29,316.07 520.41,315.70 521.52,315.27 522.64,315.01 523.76,315.35 524.87,315.97 525.99,316.15 527.10,315.99 528.22,315.67 529.34,316.40 530.45,315.94 531.57,315.49 532.68,315.77 533.80,316.04 534.92,316.38 536.03,316.71 537.15,316.60 538.26,316.57 539.38,316.24 540.50,316.71 541.61,316.55 542.73,316.55 543.84,316.09 544.96,317.04 546.08,316.96 547.19,317.07 548.31,316.98 549.42,316.78 550.54,316.41 551.66,317.02 552.77,316.55 553.89,316.51 555.00,316.07 556.12,316.26 557.24,316.78 558.35,316.57 559.47,316.74 560.58,316.68 561.70,315.64 562.82,315.69 563.93,316.30 565.05,317.01 566.16,317.81 567.28,318.10 568.40,318.21 569.51,318.13 570.63,317.90 571.74,318.02 572.86,317.49 573.98,317.92 575.09,318.09 576.21,317.97 577.32,317.66 578.44,317.07 579.56,317.54 580.67,317.91 581.79,318.15 582.90,316.97 584.02,316.54 585.14,316.96 586.25,317.37 587.37,316.67 588.48,316.04 589.60,316.07 590.72,316.58 591.83,316.69 592.95,316.43 594.06,317.04 595.18,317.55 596.30,317.79 597.41,317.57 598.53,317.09 599.64,317.51 600.76,317.35 601.88,316.83 602.99,316.64 604.11,317.10 605.22,317.36 606.34,317.42 607.46,317.19 608.57,316.85 609.69,316.82 610.80,316.68 611.92,318.22 613.04,319.39 614.15,319.75 615.27,319.58 616.38,318.87 617.50,319.60 618.62,319.45 619.73,318.96 620.85,318.44 621.96,319.06 623.08,320.16 624.20,320.25 625.31,319.62 626.43,318.80 627.54,318.66 628.66,317.65 629.78,316.85 630.89,316.27 632.01,317.36 633.12,318.11 634.24,318.04 635.36,318.70 636.47,318.82 637.59,318.29 638.70,317.96 639.82,318.02 640.94,319.52 642.05,320.22 643.17,319.37 644.28,317.92 645.40,318.40 646.52,318.89 647.63,318.44 648.00,317.60"/>
<polyline stroke="#1f77b4" points="90.00,314.92 91.10,314.84 92.22,315.16 93.34,316.18 94.45,315.92 95.57,315.74 96.68,315.97 97.80,316.56 98.92,315.25 100.03,314.40 101.15,315.33 102.26,315.42 103.38,315.11 104.50,315.81 105.61,316.22 106.73,316.44 107.84,316.65 108.96,316.58 110.08,316.22 111.19,315.41 112.31,315.34 113.42,315.54 114.54,315.48 115.66,315.30 116.77,315.26 117.89,315.73 119.00,315.95 120.12,314.91 121.24,315.22 122.35,315.48 123.47,314.96 124.58,314.33 125.70,314.52 126.82,314.02 127.93,314.19 129.05,313.44 130.16,313.54 131.28,314.62 132.40,314.55 133.51,315.58 134.63,316.27 135.74,315.24 136.86,314.64 137.98,315.54 139.09,315.37 140.21,313.81 141.32,312.71 142.44,313.47 143.56,314.96 144.67,314.68 145.79,314.43 146.90,315.10 148.02,314.88 149.14,314.26 150.25,313.74 151.37,314.15 152.48,314.38 153.60,315.24 154.72,314.86 155.83,313.93 156.95,313.58 158.06,313.67 159.18,314.83 160.30,315.40 161.41,314.87 162.53,314.93 163.64,314.69 164.76,314.13 165.88,313.91 166.99,313.86 168.11,313.56 169.22,314.14 170.34,315.63 171.46,315.13 172.57,314.42 173.69,314.93 174.80,313.78 175.92,313.09 177.04,312.97 178.15,312.36 179.27,312.64 180.38,313.28 181.50,313.04 182.62,313.04 183.73,313.30 184.85,313.93 185.96,314.14 187.08,314.04 188.20,313.58 189.31,313.79 190.43,314.09 191.54,313.88 192.66,313.85 193.78,314.05 194.89,313.85 196.01,313.28 197.12,313.70 198.24,313.51 199.36,313.84 200.47,313.64 201.59,313.93 202.70,314.29 203.82,314.58 204.94,313.21 206.05,313.47 207.17,313.50 208.28,313.24 209.40,313.13 210.52,312.82 211.63,312.60 212.75,313.05 213.86,313.00 214.98,312.88 216.10,312.57 217.21,312.41 218.33,312.77 219.44,312.62 220.56,311.99 221.68,312.25 222.79,311.79 223.91,312.24 225.02,312.62 226.14,312.78 227.26,312.25 228.37,311.63 229.49,311.79 230.60,312.25 231.72,312.36 232.84,313.92 233.95,314.52 235.07,313.60 236.18,312.22 237.30,312.90 238.42,313.67 239.53,313.08 240.65,312.81 241.76,312.91 242.88,312.82 244.00,312.45 245.11,312.65 246.23,311.74 247.34,311.56 248.46,311.44 249.58,310.70 250.69,310.98 251.81,312.64 252.92,313.21 254.04,312.50 255.16,312.62 256.27,312.17 257.39,312.54 258.50,312.10 259.62,312.16 260.74,312.14 261.85,311.54 262.97,311.12 264.08,310.85 265.20,310.16 266.32,310.50 267.43,310.73 268.55,311.15 269.66,311.85 270.78,312.87 271.90,312.59 273.01,311.24 274.13,310.41 275.24,310.10 276.36,309.94 277.48,309.98 278.59,309.49 279.71,310.20 280.82,309.97 281.94,310.43 283.06,310.05 284.17,309.97 285.29,310.54 286.40,309.99 287.52,309.20 288.64,308.94 289.75,309.57 290.87,308.72 291.98,308.91 293.10,309.53 294.22,308.90 295.33,308.24 296.45,308.57 297.56,308.38 298.68,306.66 299.80,305.10 300.91,305.02 302.03,304.73 303.14,304.93 304.26,304.64 305.38,304.74 306.49,305.24 307.61,305.42 308.72,304.62 309.84,303.57 310.96,303.80 312.07,304.36 313.19,303.99 314.30,303.73 315.42,303.13 316.54,301.60 317.65,298.42 318.77,293.83 319.88,288.76 321.00,285.14 322.12,283.32 323.23,283.46 324.35,285.63 325.46,289.84 326.58,294.94 327.70,298.94 328.81,302.08 329.93,303.46 331.04,303.00 332.16,301.86 333.28,301.66 334.39,299.46 335.51,292.28 336.62,281.04 337.74,269.79 338.86,260.71 339.97,254.43 341.09,251.02 342.20,250.26 343.32,251.94 344.44,256.41 345.55,263.72 346.67,273.57 347.78,284.51 348.90,293.04 350.02,297.73 351.13,299.88 352.25,296.66 353.36,283.26 354.48,263.86 355.60,245.17 356.71,229.33 357.83,216.72 358.94,207.32 360.06,201.05 361.18,197.78 362.29,197.18 363.41,198.62 364.52,202.22 365.64,208.11 366.76,216.39 367.87,227.09 368.99,240.26 370.10,255.75 371.22,272.05 372.34,274.81 373.45,256.75 374.57,237.31 375.68,220.14 376.80,205.50 377.92,193.37 379.03,183.72 380.15,176.49 381.26,171.61 382.38,168.98 383.50,168.40 384.61,169.96 385.73,174.17 386.84,181.21 387.96,191.19 389.08,204.19 390.19,220.28 391.31,239.43 392.42,260.67 393.54,265.70 394.66,244.64 395.77,223.73 396.89,205.87 398.00,191.11 399.12,179.42 400.24,170.72 401.35,164.91 402.47,161.86 403.58,161.33 404.70,163.56 405.82,169.14 406.93,178.31 408.05,191.19 409.16,207.90 410.28,228.47 411.40,251.96 412.51,258.83 413.63,240.84 414.74,224.20 415.86,211.30 416.98,202.11 418.09,196.50 419.21,194.25 420.32,194.78 421.44,197.86 422.56,203.76 423.67,212.60 424.79,224.49 425.90,239.45 427.02,256.77 428.14,262.85 429.25,243.86 430.37,223.74 431.48,206.66 432.60,192.74 433.72,181.91 434.83,174.10 435.95,169.20 437.06,167.05 438.18,167.32 439.30,170.22 440.41,176.10 441.53,185.09 442.64,197.31 443.76,212.84 444.88,231.70 445.99,253.81 447.11,278.06 448.22,297.77 449.34,304.30 450.46,304.98 451.57,305.68 452.69,306.73 453.80,307.49 454.92,308.45 456.04,308.91 457.15,309.64 458.27,309.37 459.38,308.44 460.50,308.30 461.62,308.18 462.73,308.63 463.85,309.81 464.96,311.01 466.08,310.44 467.20,310.07 468.31,309.95 469.43,310.63 470.54,311.35 471.66,310.96 472.78,309.56 473.89,309.59 475.01,311.62 476.12,312.46 477.24,312.64 478.36,312.30 479.47,312.33 480.59,313.06 481.70,312.81 482.82,312.95 483.94,312.49 485.05,311.29 486.17,311.04 487.28,311.22 488.40,311.56 489.52,311.51 490.63,311.90 491.75,312.58 492.86,312.86 493.98,313.09 495.10,312.80 496.21,312.28 497.33,312.36 498.44,313.15 499.56,312.52 500.68,311.19 501.79,311.44 502.91,311.40 504.02,311.58 505.14,312.25 506.26,312.07 507.37,312.27 508.49,312.60 509.60,312.46 510.72,311.70 511.84,311.45 512.95,311.15 514.07,311.76 515.18,311.77 516.30,312.42 517.42,313.08 518.53,314.47 519.65,314.27 520.76,314.03 521.88,313.28 523.00,312.98 524.11,312.56 525.23,311.98 526.34,312.50 527.46,312.42 528.58,312.83 529.69,313.13 530.81,313.62 531.92,313.52 533.04,313.26 534.16,313.77 535.27,313.68 536.39,313.04 537.50,313.24 538.62,313.45 539.74,314.41 540.85,313.99 541.97,313.20 543.08,312.86 544.20,313.11 545.32,313.49 546.43,314.01 547.55,313.59 548.66,312.74 549.78,312.32 550.90,313.13 552.01,313.04 553.13,312.97 554.24,312.25 555.36,312.63 556.48,313.65 557.59,313.94 558.71,313.85 559.82,313.82 560.94,314.11 562.06,314.59 563.17,314.28 564.29,314.58 565.40,315.16 566.52,314.51 567.64,313.64 568.75,313.81 569.87,313.80 570.98,313.86 572.10,314.11 573.22,313.69 574.33,313.84 575.45,314.57 576.56,314.11 577.68,314.37 578.80,314.52 579.91,314.93 581.03,314.53 582.14,314.10 583.26,313.30 584.38,313.84 585.49,314.87 586.61,314.70 587.72,314.80 588.84,315.32 589.96,314.94 591.07,314.93 592.19,314.37 593.30,314.18 594.42,313.73 595.54,314.15 596.65,314.78 597.77,315.09 598.88,313.61 600.00,313.48 601.12,314.29 602.23,314.47 603.35,314.02 604.46,314.17 605.58,314.30 606.70,314.62 607.81,315.73 608.93,315.35 610.04,315.25 611.16,315.22 612.28,315.05 613.39,315.01 614.51,315.40 615.62,315.44 616.74,314.83 617.86,314.40 618.97,314.98 620.09,314.76 621.20,314.63 622.32,315.57 623.44,316.67 624.55,315.35 625.67,314.48 626.78,315.59 627.90,315.99 629.02,315.79 630.13,316.16 631.25,315.76 632.36,315.42 633.48,315.42 634.60,315.83 635.71,315.58 636.83,316.18 637.94,315.78 639.06,315.21 640.18,314.53 641.29,314.22 642.41,314.94 643.52,315.05 644.64,314.43 645.76,315.21 646.87,315.80 647.99,315.02 648.00,315.34"/>
<polyline stroke="#17becf" points="90.00,310.91 90.48,311.76 91.59,311.77 92.71,311.44 93.83,310.72 94.94,310.88 96.06,310.94 97.17,311.24 98.29,311.11 99.41,310.57 100.52,311.27 101.64,310.35 102.75,311.17 103.87,311.33 104.99,310.53 106.10,310.81 107.22,311.45 108.33,310.12 109.45,309.18 110.57,309.11 111.68,310.13 112.80,311.02 113.91,310.66 115.03,309.81 116.15,310.08 117.26,310.04 118.38,310.08 119.49,310.05 120.61,310.14 121.73,310.51 122.84,310.64 123.96,310.29 125.07,309.72 126.19,309.78 127.31,310.80 128.42,311.42 129.54,310.93 130.65,311.05 131.77,310.85 132.89,310.64 134.00,309.39 135.12,309.20 136.23,309.56 137.35,309.30 138.47,309.93 139.58,310.87 140.70,310.98 141.81,309.96 142.93,309.54 144.05,309.80 145.16,310.25 146.28,309.72 147.39,309.15 148.51,308.38 149.63,308.73 150.74,309.42 151.86,308.29 152.97,308.00 154.09,308.29 155.21,308.69 156.32,309.11 157.44,309.76 158.55,309.04 159.67,309.30 160.79,309.45 161.90,309.27 163.02,309.36 164.13,309.93 165.25,309.76 166.37,309.24 167.48,308.76 168.60,308.72 169.71,307.99 170.83,307.62 171.95,308.21 173.06,308.30 174.18,309.23 175.29,309.42 176.41,309.01 177.53,309.65 178.64,308.85 179.76,308.07 180.87,309.02 181.99,310.07 183.11,309.21 184.22,308.74 185.34,308.52 186.45,309.05 187.57,309.06 188.69,308.68 189.80,308.39 190.92,308.21 192.03,308.54 193.15,307.88 194.27,308.33 195.38,309.35 196.50,309.69 197.61,309.29 198.73,308.60 199.85,308.34 200.96,308.80 202.08,309.53 203.19,309.44 204.31,308.79 205.43,308.43 206.54,307.79 207.66,308.13 208.77,308.93 209.89,308.99 211.01,307.95 212.12,308.28 213.24,308.79 214.35,309.15 215.47,309.09 216.59,309.15 217.70,309.95 218.82,309.18 219.93,308.89 221.05,308.34 222.17,307.76 223.28,308.49 224.40,308.92 225.51,308.25 226.63,308.00 227.75,307.98 228.86,307.85 229.98,307.66 231.09,308.65 232.21,309.61 233.33,309.18 234.44,308.15 235.56,307.76 236.67,306.82 237.79,307.62 238.91,308.69 240.02,308.92 241.14,308.59 242.25,308.05 243.37,308.20 244.49,307.58 245.60,308.23 246.72,308.57 247.83,308.20 248.95,308.41 250.07,307.98 251.18,307.31 252.30,306.94 253.41,307.29 254.53,308.30 255.65,308.14 256.76,308.44 257.88,308.55 258.99,307.61 260.11,306.76 261.23,307.07 262.34,307.15 263.46,306.15 264.57,306.08 265.69,306.48 266.81,306.52 267.92,306.37 269.04,306.93 270.15,306.88 271.27,307.42 272.39,307.35 273.50,307.42 274.62,307.42 275.73,307.16 276.85,306.95 277.97,307.08 279.08,306.81 280.20,305.84 281.31,306.18 282.43,307.22 283.55,306.84 284.66,305.37 285.78,305.37 286.89,305.19 288.01,305.53 289.13,305.08 290.24,305.31 291.36,305.72 292.47,305.80 293.59,305.87 294.71,305.54 295.82,304.76 296.94,304.10 298.05,303.63 299.17,303.11 300.29,302.64 301.40,301.22 302.52,300.19 303.63,299.42 304.75,299.80 305.87,301.27 306.98,302.68 308.10,302.27 309.21,302.17 310.33,301.65 311.45,301.32 312.56,300.71 313.68,300.63 314.79,300.95 315.91,300.24 317.03,298.75 318.14,296.21 319.26,292.08 320.37,287.98 321.49,284.63 322.61,282.99 323.72,283.21 324.84,285.17 325.95,288.88 327.07,293.19 328.19,295.26 329.30,296.25 330.42,297.74 331.53,298.65 332.65,298.75 333.77,297.42 334.88,296.44 336.00,294.80 337.11,288.17 338.23,278.05 339.35,268.08 340.46,260.04 341.58,254.61 342.69,252.01 343.81,251.91 344.93,254.28 346.04,259.46 347.16,267.35 348.27,277.02 349.39,286.10 350.51,292.44 351.62,295.54 352.74,295.23 353.85,289.43 354.97,274.96 356.09,255.56 357.20,237.55 358.32,222.59 359.43,210.86 360.55,202.33 361.67,196.90 362.78,194.41 363.90,194.45 365.01,196.78 366.13,201.66 367.25,209.23 368.36,219.57 369.48,232.73 370.59,248.68 371.71,266.89 372.83,282.96 373.94,276.95 375.06,255.63 376.17,234.96 377.29,216.95 378.41,201.85 379.52,189.63 380.64,180.23 381.75,173.60 382.87,169.61 383.99,168.10 385.10,168.79 386.22,171.94 387.33,177.84 388.45,186.58 389.57,198.28 390.68,212.98 391.80,230.73 392.91,250.86 394.03,259.36 395.15,240.72 396.26,220.72 397.38,203.67 398.49,189.67 399.61,178.66 400.73,170.58 401.84,165.34 402.96,162.79 404.07,162.64 405.19,165.06 406.31,170.44 407.42,178.97 408.54,190.75 409.65,205.88 410.77,224.39 411.89,246.16 413.00,264.97 414.12,252.02 415.23,230.82 416.35,212.64 417.47,197.83 418.58,186.35 419.70,178.12 420.81,173.02 421.93,170.86 423.05,171.34 424.16,174.82 425.28,181.68 426.39,192.08 427.51,206.15 428.63,223.95 429.74,245.50 430.86,269.41 431.97,270.95 433.09,246.98 434.21,225.43 435.32,207.42 436.44,193.14 437.55,182.51 438.67,175.44 439.79,171.76 440.90,171.12 442.02,173.07 443.13,177.91 444.25,185.84 445.37,196.95 446.48,211.35 447.60,229.07 448.71,250.07 449.83,273.71 450.95,295.22 452.06,304.45 453.18,306.27 454.29,306.50 455.41,306.31 456.53,306.08 457.64,306.99 458.76,307.49 459.87,307.67 460.99,308.48 462.11,309.35 463.22,308.91 464.34,308.69 465.45,308.84 466.57,309.35 467.69,309.15 468.80,309.18 469.92,309.16 471.03,309.62 472.15,309.42 473.27,308.99 474.38,309.61 475.50,309.26 476.61,309.29 477.73,309.16 478.85,309.09 479.96,309.87 481.08,310.21 482.19,309.56 483.31,309.75 484.43,310.22 485.54,310.46 486.66,310.60 487.77,310.90 488.89,310.69 490.01,309.98 491.12,309.83 492.24,311.16 493.35,311.08 494.47,310.90 495.59,310.02 496.70,309.89 497.82,309.95 498.93,309.79 500.05,309.62 501.17,310.15 502.28,310.10 503.40,310.19 504.51,311.24 505.63,311.53 506.75,310.30 507.86,309.81 508.98,309.75 510.09,310.88 511.21,311.53 512.33,310.87 513.44,310.43 514.56,311.23 515.67,311.62 516.79,311.71 517.91,311.73 519.02,311.08 520.14,310.63 521.25,310.77 522.37,311.49 523.49,312.45 524.60,312.64 525.72,312.17 526.83,312.38 527.95,311.92 529.07,311.58 530.18,311.15 531.30,312.55 532.41,312.67 533.53,311.64 534.65,311.24 535.76,311.12 536.88,311.50 537.99,311.43 539.11,311.51 540.23,311.76 541.34,311.77 542.46,312.28 543.57,312.21 544.69,312.24 545.81,312.03 546.92,311.35 548.04,310.91 549.15,310.89 550.27,311.44 551.39,311.87 552.50,312.07 553.62,312.31 554.73,312.02 555.85,311.34 556.97,311.26 558.08,311.76 559.20,312.67 560.31,312.73 561.43,312.25 562.55,311.62 563.66,311.19 564.78,311.58 565.89,312.26 567.01,312.79 568.13,312.21 569.24,312.45 570.36,312.74 571.47,312.22 572.59,312.36 573.71,312.32 574.82,311.67 575.94,312.12 577.05,312.91 578.17,312.69 579.29,312.56 580.40,312.14 581.52,311.83 582.63,311.87 583.75,311.66 584.87,311.68 585.98,312.38 587.10,312.59 588.21,312.72 589.33,312.26 590.45,312.24 591.56,312.95 592.68,313.41 593.79,312.86 594.91,313.24 596.03,313.37 597.14,312.87 598.26,312.57 599.37,313.17 600.49,313.13 601.61,312.73 602.72,312.07 603.84,312.29 604.95,312.58 606.07,311.87 607.19,311.73 608.30,311.69 609.42,312.05 610.53,311.67 611.65,312.19 612.77,312.18 613.88,312.23 615.00,312.19 616.11,312.59 617.23,313.00 618.35,313.07 619.46,313.54 620.58,313.49 621.69,313.05 622.81,312.97 623.93,313.57 625.04,313.26 626.16,313.28 627.27,312.88 628.39,312.12 629.51,312.73 630.62,313.61 631.74,313.45 632.85,313.52 633.97,313.64 635.09,313.62 636.20,314.03 637.32,312.86 638.43,313.14 639.55,312.98 640.67,312.37 641.78,313.08 642.90,314.78 644.01,314.77 645.13,313.43 646.25,313.60 647.36,314.02 648.00,313.24"/>
<polyline stroke="#7f7f7f" points="90.00,306.71 90.66,306.77 91.78,306.54 92.90,306.06 94.01,305.99 95.13,305.85 96.24,306.24 97.36,306.46 98.48,306.36 99.59,306.05 100.71,306.25 101.82,306.55 102.94,306.57 104.06,306.31 105.17,306.55 106.29,306.33 107.40,306.51 108.52,307.01 109.64,306.98 110.75,306.70 111.87,306.72 112.98,306.57 114.10,306.55 115.22,306.35 116.33,306.04 117.45,306.66 118.56,306.83 119.68,307.19 120.80,306.78 121.91,306.07 123.03,305.87 124.14,306.07 125.26,306.47 126.38,306.52 127.49,306.05 128.61,306.27 129.72,306.52 130.84,305.99 131.96,305.96 133.07,306.05 134.19,306.03 135.30,305.87 136.42,305.74 137.54,306.12 138.65,306.52 139.77,306.86 140.88,307.10 142.00,306.67 143.12,306.30 144.23,306.30 145.35,306.24 146.46,306.29 147.58,306.35 148.70,306.51 149.81,306.68 150.93,306.56 152.04,306.74 153.16,306.58 154.28,305.96 155.39,306.40 156.51,306.11 157.62,305.17 158.74,305.33 159.86,305.94 160.97,305.74 162.09,305.98 163.20,306.19 164.32,306.54 165.44,306.16 166.55,305.47 167.67,305.39 168.78,305.56 169.90,305.96 171.02,305.66 172.13,305.21 173.25,305.36 174.36,305.59 175.48,306.25 176.60,306.35 177.71,306.35 178.83,305.89 179.94,306.07 181.06,306.11 182.18,306.01 183.29,305.99 184.41,305.83 185.52,305.95 186.64,305.71 187.76,305.65 188.87,305.37 189.99,305.43 191.10,305.58 192.22,305.54 193.34,306.04 194.45,306.55 195.57,306.45 196.68,306.32 197.80,306.00 198.92,305.71 200.03,305.55 201.15,305.84 202.26,305.34 203.38,305.22 204.50,305.36 205.61,305.33 206.73,305.23 207.84,305.45 208.96,305.65 210.08,305.56 211.19,305.37 212.31,305.32 213.42,305.02 214.54,305.01 215.66,305.61 216.77,305.53 217.89,305.04 219.00,304.69 220.12,304.57 221.24,304.97 222.35,305.51 223.47,305.58 224.58,305.55 225.70,305.81 226.82,305.96 227.93,305.20 229.05,304.77 230.16,304.38 231.28,305.00 232.40,304.73 233.51,304.77 234.63,304.85 235.74,304.13 236.86,304.63 237.98,304.94 239.09,305.11 240.21,305.09 241.32,305.31 242.44,305.33 243.56,305.14 244.67,304.72 245.79,304.71 246.90,304.65 248.02,304.27 249.14,304.25 250.25,304.72 251.37,304.46 252.48,303.95 253.60,304.36 254.72,304.43 255.83,304.33 256.95,304.51 258.06,304.40 259.18,304.24 260.30,303.99 261.41,303.98 262.53,303.95 263.64,304.29 264.76,304.27 265.88,303.72 266.99,303.65 268.11,304.22 269.22,304.19 270.34,303.97 271.46,304.07 272.57,303.92 273.69,303.76 274.80,303.25 275.92,303.56 277.04,303.75 278.15,304.11 279.27,303.73 280.38,303.80 281.50,303.53 282.62,303.39 283.73,303.52 284.85,303.15 285.96,303.07 287.08,302.99 288.20,302.77 289.31,302.70 290.43,302.43 291.54,302.58 292.66,302.26 293.78,301.71 294.89,301.46 296.01,301.14 297.12,300.70 298.24,300.20 299.36,299.62 300.47,299.23 301.59,297.89 302.70,296.85 303.82,296.62 304.94,296.53 306.05,297.04 307.17,297.98 308.28,298.24 309.40,298.41 310.52,298.77 311.63,298.54 312.75,298.09 313.86,298.03 314.98,297.58 316.10,296.71 317.21,296.03 318.33,294.99 319.44,292.00 320.56,287.67 321.68,283.43 322.79,280.51 323.91,279.41 325.02,280.02 326.14,282.44 327.26,286.10 328.37,290.16 329.49,293.45 330.60,295.16 331.72,295.26 332.84,295.00 333.95,294.60 335.07,294.48 336.18,294.59 337.30,294.25 338.42,292.68 339.53,287.09 340.65,277.53 341.76,266.60 342.88,257.20 344.00,250.40 345.11,246.41 346.23,245.17 347.34,246.32 348.46,250.17 349.58,256.85 350.69,266.16 351.81,277.07 352.92,286.77 354.04,292.20 355.16,293.05 356.27,290.44 357.39,279.46 358.50,261.54 359.62,243.71 360.74,228.59 361.85,216.65 362.97,207.89 364.08,202.24 365.20,199.54 366.32,199.36 367.43,200.94 368.55,204.39 369.66,209.81 370.78,217.26 371.90,226.79 373.01,238.24 374.13,249.45 375.24,248.03 376.36,233.14 377.48,217.70 378.59,204.25 379.71,192.93 380.82,183.75 381.94,176.66 383.06,171.60 384.17,168.50 385.29,167.24 386.40,167.66 387.52,170.19 388.64,175.05 389.75,182.38 390.87,192.23 391.98,204.68 393.10,219.64 394.22,234.68 395.33,232.60 396.45,216.08 397.56,200.47 398.68,187.42 399.80,176.98 400.91,169.09 402.03,163.67 403.14,160.63 404.26,159.77 405.38,160.68 406.49,163.47 407.61,168.29 408.72,175.23 409.84,184.33 410.96,195.60 412.07,208.56 413.19,217.77 414.30,211.27 415.42,198.47 416.54,186.97 417.65,177.62 418.77,170.45 419.88,165.40 421.00,162.38 422.12,161.27 423.23,161.97 424.35,165.00 425.46,170.60 426.58,178.88 427.70,189.92 428.81,203.79 429.93,220.32 431.04,235.85 432.16,233.56 433.28,220.80 434.39,209.65 435.51,201.18 436.62,195.40 437.74,192.20 438.86,191.35 439.97,192.83 441.09,197.15 442.20,204.52 443.32,215.06 444.44,228.84 445.55,245.85 446.67,265.67 447.78,285.66 448.90,297.74 450.02,300.61 451.13,301.10 452.25,301.47 453.36,301.97 454.48,302.16 455.60,302.63 456.71,303.02 457.83,303.45 458.94,303.54 460.06,303.70 461.18,304.24 462.29,304.76 463.41,304.58 464.52,304.58 465.64,304.63 466.76,304.21 467.87,304.50 468.99,304.65 470.10,304.81 471.22,305.09 472.34,305.00 473.45,305.00 474.57,305.25 475.68,304.74 476.80,304.67 477.92,304.82 479.03,304.87 480.15,305.32 481.26,306.06 482.38,306.04 483.50,305.88 484.61,305.99 485.73,305.99 486.84,306.28 487.96,306.57 489.08,306.00 490.19,305.53 491.31,305.38 492.42,305.69 493.54,305.68 494.66,306.04 495.77,306.13 496.89,305.85 498.00,306.02 499.12,306.44 500.24,306.46 501.35,306.08 502.47,305.75 503.58,305.99 504.70,306.10 505.82,306.04 506.93,306.19 508.05,306.19 509.16,306.95 510.28,307.07 511.40,306.67 512.51,306.29 513.63,305.98 514.74,306.00 515.86,306.40 516.98,306.78 518.09,306.42 519.21,306.52 520.32,307.32 521.44,307.61 522.56,307.33 523.67,306.93 524.79,307.09 525.90,307.20 527.02,306.91 528.14,306.94 529.25,307.23 530.37,307.55 531.48,307.68 532.60,307.56 533.72,307.69 534.83,307.29 535.95,307.35 537.06,307.31 538.18,307.41 539.30,307.29 540.41,307.03 541.53,306.90 542.64,307.26 543.76,307.65 544.88,307.56 545.99,307.96 547.11,307.86 548.22,307.38 549.34,307.13 550.46,307.12 551.57,306.98 552.69,307.30 553.80,307.67 554.92,307.79 556.04,308.12 557.15,308.05 558.27,307.94 559.38,308.21 560.50,308.36 561.62,308.19 562.73,308.36 563.85,308.22 564.96,308.01 566.08,308.11 567.20,308.29 568.31,308.32 569.43,307.95 570.54,308.29 571.66,308.05 572.78,307.49 573.89,308.16 575.01,308.29 576.12,308.19 577.24,308.36 578.36,308.20 579.47,308.32 580.59,307.70 581.70,307.65 582.82,308.07 583.94,308.49 585.05,308.42 586.17,308.33 587.28,308.32 588.40,308.78 589.52,308.94 590.63,308.44 591.75,308.07 592.86,308.53 593.98,308.51 595.10,308.61 596.21,308.93 597.33,309.14 598.44,309.00 599.56,308.89 600.68,309.05 601.79,309.22 602.91,308.94 604.02,308.85 605.14,309.03 606.26,309.16 607.37,309.24 608.49,309.15 609.60,309.06 610.72,308.72 611.84,308.77 612.95,308.87 614.07,309.12 615.18,309.14 616.30,309.38 617.42,309.67 618.53,309.48 619.65,309.47 620.76,309.40 621.88,309.71 623.00,310.03 624.11,309.51 625.23,309.27 626.34,309.40 627.46,309.70 628.58,309.84 629.69,309.87 630.81,309.38 631.92,309.00 633.04,309.85 634.16,310.17 635.27,309.79 636.39,309.77 637.50,310.03 638.62,310.18 639.74,309.81 640.85,309.72 641.97,309.61 643.08,309.60 644.20,309.69 645.32,309.44 646.43,309.90 647.55,310.22 648.00,310.27"/>
</g>
<rect x="90.5" y="52.5" width="558.0" height="326.0" fill="none" stroke="#cccccc" stroke-width="1"/>
<rect x="97.3" y="59.3" width="87.4" height="152.7" rx="2.8" ry="2.8" fill="#fff" fill-opacity="0.8" stroke="#cccccc" stroke-opacity="0.8" stroke-width="1"/>
<path d="M102.9 71.00H131.8" stroke="#bcbd22" stroke-width="1.5" stroke-linecap="square"/>
<text transform="translate(142.9,75.70) scale(1.012,1)" class="lg">Ch. 1</text>
<path d="M102.9 92.15H131.8" stroke="#ff7f0e" stroke-width="1.5" stroke-linecap="square"/>
<text transform="translate(142.9,96.85) scale(1.012,1)" class="lg">Ch. 2</text>
<path d="M102.9 113.30H131.8" stroke="#d62728" stroke-width="1.5" stroke-linecap="square"/>
<text transform="translate(142.9,118.00) scale(1.012,1)" class="lg">Ch. 3</text>
<path d="M102.9 134.45H131.8" stroke="#9467bd" stroke-width="1.5" stroke-linecap="square"/>
<text transform="translate(142.9,139.15) scale(1.012,1)" class="lg">Ch. 4</text>
<path d="M102.9 155.60H131.8" stroke="#1f77b4" stroke-width="1.5" stroke-linecap="square"/>
<text transform="translate(142.9,160.30) scale(1.012,1)" class="lg">Ch. 5</text>
<path d="M102.9 176.75H131.8" stroke="#17becf" stroke-width="1.5" stroke-linecap="square"/>
<text transform="translate(142.9,181.45) scale(1.012,1)" class="lg">Ch. 6</text>
<path d="M102.9 197.90H131.8" stroke="#7f7f7f" stroke-width="1.5" stroke-linecap="square"/>
<text transform="translate(142.9,202.60) scale(1.012,1)" class="lg">Ch. 7</text>
<text transform="translate(164.32,391.40) scale(0.9650,1.0700)" class="tk" text-anchor="middle">842</text>
<text transform="translate(238.84,391.40) scale(0.9650,1.0700)" class="tk" text-anchor="middle">844</text>
<text transform="translate(313.36,391.40) scale(0.9650,1.0700)" class="tk" text-anchor="middle">846</text>
<text transform="translate(387.88,391.40) scale(0.9650,1.0700)" class="tk" text-anchor="middle">848</text>
<text transform="translate(462.40,391.40) scale(0.9650,1.0700)" class="tk" text-anchor="middle">850</text>
<text transform="translate(536.92,391.40) scale(0.9650,1.0700)" class="tk" text-anchor="middle">852</text>
<text transform="translate(611.44,391.40) scale(0.9650,1.0700)" class="tk" text-anchor="middle">854</text>
<text transform="translate(85.90,353.75) scale(0.9500,1.0400)" class="tk" text-anchor="end">−80</text>
<text transform="translate(85.90,294.55) scale(0.9500,1.0400)" class="tk" text-anchor="end">−60</text>
<text transform="translate(85.90,234.55) scale(0.9500,1.0400)" class="tk" text-anchor="end">−40</text>
<text transform="translate(85.90,175.65) scale(0.9500,1.0400)" class="tk" text-anchor="end">−20</text>
<text transform="translate(85.90,116.35) scale(0.9500,1.0400)" class="tk" text-anchor="end">0</text>
<text transform="translate(85.90,56.35) scale(0.9500,1.0400)" class="tk" text-anchor="end">20</text>
<text transform="translate(368.45,411.90) scale(1.0500,1.0000)" class="lb" text-anchor="middle">Wavelength [nm]</text>
<text transform="translate(53.80,215.40) rotate(-90) scale(1.0350,1.0000)" class="lb" text-anchor="middle">Optical Power [dB]</text>
<text transform="translate(369.10,45.90) scale(1.0700,1.0000)" class="tt" text-anchor="middle">D4477 V20323 Reception Test</text>
</svg>
</body></html>
